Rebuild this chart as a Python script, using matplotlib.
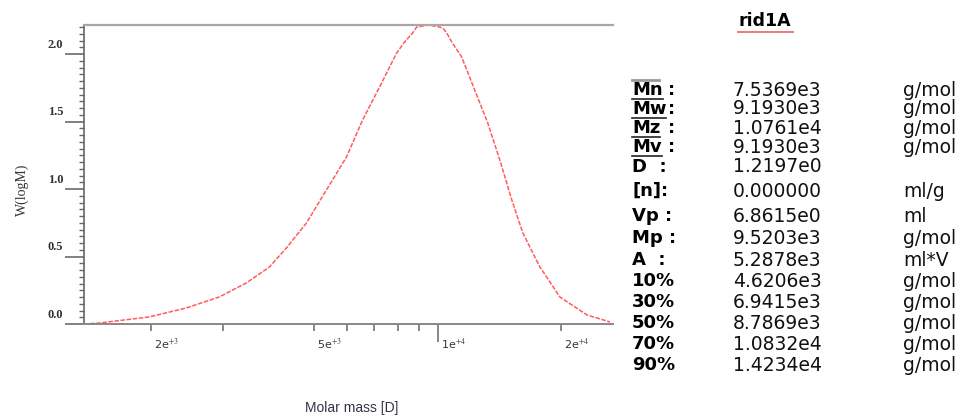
import matplotlib
matplotlib.use("Agg")
import matplotlib.pyplot as plt
from matplotlib.ticker import FixedLocator, NullFormatter, FixedFormatter
from matplotlib.transforms import ScaledTranslation
from matplotlib.lines import Line2D

# Molar mass distribution (log-scale molar mass vs. W(logM))
molar_mass = [1377, 1498, 1804, 1984, 2443, 2939, 3420, 3893, 4281, 4792,
              5213, 5998, 6563, 7221, 7943, 8307, 8689, 8890, 9510, 10110,
              10290, 10520, 10820, 11440, 12310, 13240, 14170, 15150, 16120,
              17740, 19840, 23090, 26280]
w_logm = [0.0, 0.007, 0.037, 0.052, 0.119, 0.20, 0.304, 0.422, 0.563, 0.748,
          0.933, 1.237, 1.511, 1.756, 2.007, 2.089, 2.156, 2.200, 2.215, 2.200,
          2.193, 2.156, 2.089, 1.978, 1.733, 1.489, 1.215, 0.919, 0.674,
          0.422, 0.20, 0.067, 0.015]

x_major = [2e3, 5e3, 1e4, 2e4]
x_major_labels = [r"2e$^{+3}$", r"5e$^{+3}$", r"1e$^{+4}$", r"2e$^{+4}$"]
x_minor = [3e3, 6e3, 7e3, 8e3, 9e3]
y_major = [0.0, 0.5, 1.0, 1.5, 2.0]
y_major_labels = ["0.0", "0.5", "1.0", "1.5", "2.0"]

sample_name = "rid1A"
stat_names = ["Mn", "Mw", "Mz", "Mv", "D  :", "[n]:", "Vp :", "Mp :", "A  :",
              "10%", "30%", "50%", "70%", "90%"]
stat_values = ["7.5369e3", "9.1930e3", "1.0761e4", "9.1930e3", "1.2197e0",
               "0.000000", "6.8615e0", "9.5203e3", "5.2878e3", "4.6206e3",
               "6.9415e3", "8.7869e3", "1.0832e4", "1.4234e4"]
stat_units = ["g/mol", "g/mol", "g/mol", "g/mol", "", "ml/g", "ml", "g/mol",
              "ml*V", "g/mol", "g/mol", "g/mol", "g/mol", "g/mol"]
averaged = ["Mn", "Mw", "Mz", "Mv"]

W, H = 962, 419
plt.rcParams["mathtext.fontset"] = "stix"
fig = plt.figure(figsize=(W / 100, H / 100), dpi=100)


def fx(px):
    return px / W


def fy(py):
    return 1 - py / H


ax_l, ax_r, ax_t, ax_b = 84, 613, 25, 324
ax = fig.add_axes([fx(ax_l), fy(ax_b), fx(ax_r - ax_l), (ax_b - ax_t) / H])

ax.plot(molar_mass, w_logm, color="#ff5c5c", lw=1.1, linestyle=(0, (3, 1)))

ax.set_xscale("log")
ax.set_xlim(1377, 26720)
ax.set_ylim(0, 2.215)

ax.spines["right"].set_visible(False)
ax.spines["top"].set_color("#a8a8a8")
ax.spines["top"].set_linewidth(1.6)
ax.spines["left"].set_color("#666666")
ax.spines["left"].set_linewidth(1.2)
ax.spines["bottom"].set_color("#888888")
ax.spines["bottom"].set_linewidth(1.4)

# x axis ticks
ax.xaxis.set_major_locator(FixedLocator(x_major))
ax.xaxis.set_major_formatter(FixedFormatter(x_major_labels))
ax.xaxis.set_minor_locator(FixedLocator(x_minor))
ax.xaxis.set_minor_formatter(NullFormatter())
ax.tick_params(axis="x", which="both", direction="out", length=5, width=1.1,
               color="#666666", pad=4, labelsize=8, labelcolor="#333333")
for lab in ax.get_xticklabels():
    lab.set_horizontalalignment("left")
    lab.set_transform(lab.get_transform() + ScaledTranslation(0.03, 0, fig.dpi_scale_trans))
for tk, val in zip(ax.xaxis.get_major_ticks(), x_major):
    if val == 1e4:
        tk.tick1line.set_markersize(13)

# y axis ticks
ax.yaxis.set_major_locator(FixedLocator(y_major))
ax.yaxis.set_major_formatter(FixedFormatter(y_major_labels))
ax.yaxis.set_minor_locator(FixedLocator([i * 0.05 for i in range(45)]))
ax.tick_params(axis="y", which="major", direction="out", length=13.5, width=1.3,
               color="#777777", pad=1.5, labelsize=9, labelcolor="#333333")
ax.tick_params(axis="y", which="minor", direction="out", length=3.5, width=1.0,
               color="#666666")
for lab in ax.get_yticklabels():
    lab.set_fontfamily("Liberation Serif")
    lab.set_fontweight("bold")
    lab.set_transform(lab.get_transform() + ScaledTranslation(0, 0.11, fig.dpi_scale_trans))

fig.text(fx(22), fy(190), "W(logM)", rotation=90, ha="center", va="center",
         fontsize=10, family="Liberation Serif", color="#333333")
fig.text(fx(352), fy(408), "Molar mass [D]", ha="center", va="center",
         fontsize=10, family="Liberation Sans", color="#303444")

# statistics panel
fig.text(fx(765), fy(21), sample_name, ha="center", va="center",
         fontsize=12.5, fontweight="bold", family="DejaVu Sans")
fig.add_artist(Line2D([fx(738), fx(793)], [fy(32), fy(32)], color="#f07878", lw=1.4))

row_y = [90, 109, 128, 147, 167, 191, 216, 238, 260, 281, 302, 323, 344, 365]
col_name, col_colon, col_val, col_unit = 632, 668, 733, 903
fs = 13.5
for name, val, unit, py in zip(stat_names, stat_values, stat_units, row_y):
    if name in averaged:
        t = fig.text(fx(col_name), fy(py), name, ha="left", va="center",
                     fontsize=fs - 0.5, fontweight="bold", family="DejaVu Sans")
        fig.text(fx(col_colon), fy(py), ":", ha="left", va="center",
                 fontsize=fs - 0.5, fontweight="bold", family="DejaVu Sans")
        fig.canvas.draw()
        bb = t.get_window_extent()
        x0, x1 = bb.x0 / W, bb.x1 / W
        fig.add_artist(Line2D([x0, x1], [fy(py + 9), fy(py + 9)], color="#222222", lw=1.2))
        if name == "Mn":
            fig.add_artist(Line2D([x0, x1 - 0.004], [fy(py - 10), fy(py - 10)],
                                  color="#9a9a9a", lw=2.0))
    else:
        fig.text(fx(col_name), fy(py), name, ha="left", va="center",
                 fontsize=fs - 0.5, fontweight="bold", family="DejaVu Sans")
    fig.text(fx(col_val), fy(py), val, ha="left", va="center",
             fontsize=fs, family="DejaVu Sans", color="#111111")
    if unit:
        fig.text(fx(col_unit), fy(py), unit, ha="left", va="center",
                 fontsize=fs, family="DejaVu Sans", color="#111111")

fig.savefig("out.png", dpi=100)
